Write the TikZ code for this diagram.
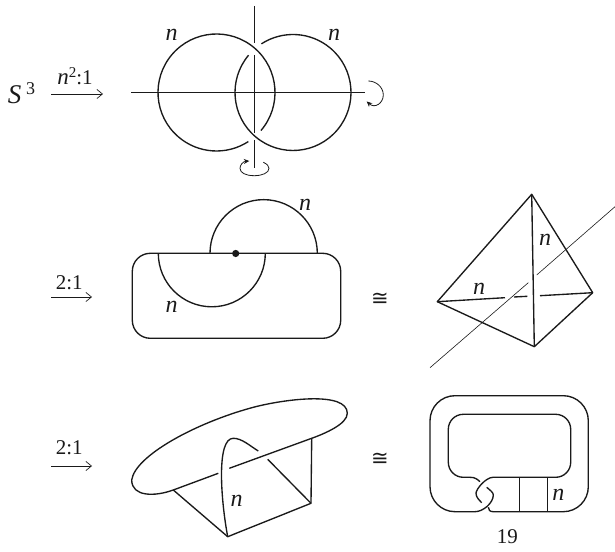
\documentclass[tikz,border=0pt]{standalone}
\usepackage{fontspec}
\setmainfont{Liberation Serif}
\newfontfamily\symfont{DejaVu Sans}
\usetikzlibrary{arrows.meta}
\definecolor{ink}{HTML}{1A1A1A}
\tikzset{
  knot/.style={draw=ink,line width=1.35pt},
  axis/.style={draw=ink,line width=0.6pt},
  mapto/.style={-{Straight Barb[length=5.5pt,width=9pt]},draw=ink,line width=0.7pt},
  spin/.style={-{Stealth[length=5.5pt,width=5pt]},draw=ink,line width=0.8pt},
  txt/.style={font=\fontsize{21}{24}\selectfont,inner sep=0pt,text=ink},
  lab/.style={font=\fontsize{24}{26}\selectfont\itshape,inner sep=0pt,text=ink},
  iso/.style={font=\fontsize{21}{24}\symfont,inner sep=0pt,text=ink}
}
\begin{document}
\begin{tikzpicture}[x=1pt,y=1pt]
  \useasboundingbox (0,0) rectangle (615,551);
  % row 1: two circles and their axes
  \node[txt] (s) at (21.5,458) {\fontsize{27}{28}\selectfont\textit{S}\,\raisebox{8.5pt}{\fontsize{18}{20}\selectfont 3}};
  \node[txt] (lab1) at (75,475) {\fontsize{23}{24}\selectfont\textit{n}\raisebox{7pt}{\fontsize{15}{16}\selectfont 2}\fontsize{21}{24}\selectfont:1};
  \coordinate (a1) at (51,457);
  \coordinate (b1) at (103,457);
  \draw[mapto] (a1) -- (b1);
  \draw[axis] (131,458.5) -- (365,458.5);
  \draw[axis] (254.3,545) -- (254.3,508);
  \draw[axis] (254.3,496) -- (254.3,418);
  \draw[axis] (254.3,411) -- (254.3,383);
  \draw[knot] (216.5,458.5) ++(-40.6:58.5) arc[start angle=-40.6,end angle=303,radius=58.5];
  \draw[knot] (293,458.5) ++(140:58) arc[start angle=140,end angle=483,radius=58];
  \draw[spin] (368.3,470) .. controls (376,470) and (383.3,464) .. (383.3,456)
    .. controls (383.3,448) and (375,442) .. (366.7,449.5);
  \draw[spin] (263.3,388.7) .. controls (267,387) and (269,385) .. (269,382.7)
    .. controls (269,378) and (262,375.3) .. (254.3,375.3)
    .. controls (246,375.3) and (240,378) .. (240,382.7)
    .. controls (240,386) and (243,389.5) .. (249.3,390);
  \node[lab] (n1) at (171.7,516) {n};
  \node[lab] (n2) at (334,516) {n};
  % row 2: rounded box with two half discs
  \node[txt] (lab2) at (69.3,268) {2:1};
  \coordinate (a2) at (51,254);
  \coordinate (b2) at (92,254);
  \draw[mapto] (a2) -- (b2);
  \draw[knot,rounded corners=18pt] (132.3,297.7) rectangle (340.7,212.7);
  \draw[knot] (210,297.7) arc[start angle=180,end angle=0,radius=53.65];
  \draw[knot] (158.3,297.7) arc[start angle=180,end angle=360,radius=53.5];
  \fill[ink] (235.7,297.5) circle (3.6pt);
  \node[lab] (n3) at (305,346) {n};
  \node[lab] (n4) at (171.7,244.3) {n};
  \node[iso] (c1) at (380,252) {≅};
  % tetrahedron
  \coordinate (t) at (531.7,356.7);
  \coordinate (l) at (437.3,249.3);
  \coordinate (r) at (592.7,258.3);
  \coordinate (d) at (534.3,204.3);
  \draw[knot,line join=round] (l) -- (t) -- (r) -- (d) -- cycle;
  \draw[knot] (t) -- (d);
  \draw[knot] (l) -- (505,253.3);
  \draw[knot] (514,254) -- (527.3,254.7);
  \draw[knot] (540,255.3) -- (r);
  \draw[axis] (615,344.3) -- (536.7,276);
  \draw[axis] (528.3,268.3) -- (430,183.3);
  \node[lab] (n5) at (545,311) {n};
  \node[lab] (n6) at (479,262) {n};
  % row 3: tilted disc with a band
  \node[txt] (lab3) at (69.3,103) {2:1};
  \coordinate (a3) at (51,85);
  \coordinate (b3) at (92,85);
  \draw[mapto] (a3) -- (b3);
  \draw[knot] (218.3,77.7) -- (173.3,61) .. controls (155,54.3) and (131.7,54) .. (131.7,71)
    .. controls (135,95) and (195,128) .. (253.3,143.7)
    .. controls (285,152) and (347.3,160) .. (347.3,137.7)
    .. controls (347.3,127) and (325,117.5) .. (311.7,112.7) -- (229.3,82.7);
  \draw[knot] (227.7,14.3) .. controls (221,50) and (216,112.7) .. (233.3,112.7)
    .. controls (242,112.7) and (250,105) .. (258.3,100);
  \draw[knot,line join=round] (173.3,61) -- (227.7,14.3) -- (311,47.7) -- (311.7,112.7);
  \draw[knot] (311,47.7) -- (267.7,91.7);
  \node[lab] (n7) at (236.7,50) {n};
  \node[iso] (c2) at (380,92) {≅};
  % twist knot
  \draw[knot] (486.7,63.7) .. controls (490.5,60.5) and (493.3,58.5) .. (493.3,56)
    .. controls (493.3,48) and (483,39.3) .. (475,39.3) -- (455,39.3)
    arc[start angle=270,end angle=180,radius=25] -- (430,130.3)
    arc[start angle=180,end angle=90,radius=25] -- (563.3,155.3)
    arc[start angle=90,end angle=0,radius=25] -- (588.3,64.3)
    arc[start angle=0,end angle=-90,radius=25] -- (493.3,39.3)
    .. controls (490,39.3) and (488.3,41) .. (488.3,43.7);
  \draw[knot] (480,69.3) .. controls (477,72) and (475,73.7) .. (470,73.7) -- (463.3,73.7)
    arc[start angle=270,end angle=180,radius=15] -- (448.3,121.7)
    arc[start angle=180,end angle=90,radius=15] -- (555.7,136.7)
    arc[start angle=90,end angle=0,radius=15] -- (570.7,88.7)
    arc[start angle=0,end angle=-90,radius=15] -- (493,73.7)
    .. controls (486,73.7) and (476,62) .. (476,57.7)
    .. controls (476,54) and (479,51) .. (481.7,48.3);
  \draw[knot] (519.3,73.7) -- (519.3,39.3);
  \draw[knot] (547.3,73.7) -- (547.3,39.3);
  \node[lab] (n8) at (558.3,56) {n};
  \node[txt] (num) at (507.3,14.3) {19};
\end{tikzpicture}
\end{document}
